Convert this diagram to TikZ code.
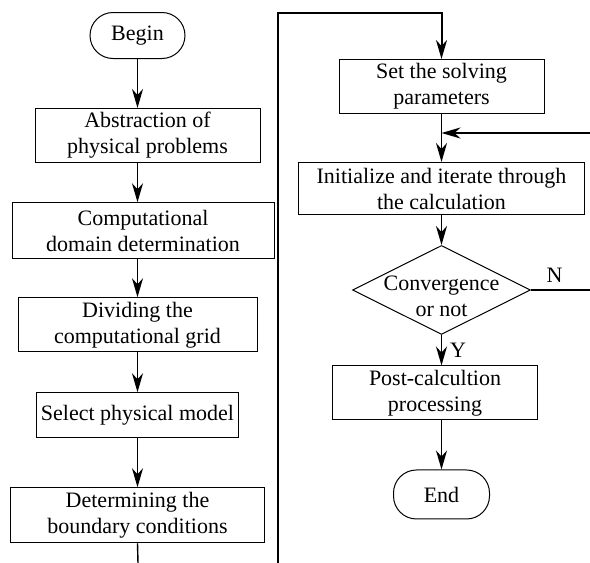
\documentclass[tikz,border=0pt]{standalone}
\usepackage{fontspec}
\setmainfont{Liberation Serif}
\usetikzlibrary{arrows.meta, positioning, shapes.geometric}

\begin{document}
\begin{tikzpicture}[
  x=1pt, y=1pt,
  node distance=19.5pt,
  box/.style={draw, line width=0.5pt, minimum height=27pt, inner sep=2pt,
    align=center, font=\fontsize{11}{13}\selectfont},
  term/.style={box, rounded corners=11.5pt, minimum height=23pt, minimum width=47.5pt},
  decision/.style={draw, diamond, line width=0.5pt, minimum width=89pt,
    minimum height=44.5pt, inner sep=0pt},
  txt/.style={align=center, font=\fontsize{11}{13}\selectfont, inner sep=1pt},
  >={Stealth[length=9.5pt, width=5.5pt, inset=3pt]},
  flow/.style={->, line width=0.7pt},
  loop/.style={line width=1pt}
]
\useasboundingbox (0,0) rectangle (295,-281.5);

% left column
\node[term] (begin) at (68.75,-17.75) {Begin};
\node[box, minimum width=112.5pt, below=24.5pt of begin, xshift=5pt] (abs)
  {Abstraction of\\physical problems};
\node[box, minimum width=131pt, minimum height=28pt, below=of abs, xshift=-2.25pt] (comp)
  {Computational\\domain determination};
\node[box, minimum width=119.5pt, below=19pt of comp, xshift=-2.75pt] (grid)
  {Dividing the\\computational grid};
\node[box, minimum width=99pt, minimum height=22.5pt, below=20pt of grid] (model)
  {Select physical model};
\node[box, minimum width=127pt, minimum height=27.5pt, below=24.5pt of model] (bound)
  {Determining the\\boundary conditions};

% right column
\node[box, minimum width=102.5pt, minimum height=26.5pt] (param) at (220.75,-43.25)
  {Set the solving\\parameters};
\node[box, minimum width=143pt, minimum height=26pt, below=24pt of param] (iter)
  {Initialize and iterate through\\the calculation};
\node[decision, below=15pt of iter] (conv) {};
\node[txt] (convtext) at ([yshift=-3pt]conv.center) {Convergence\\or not};
\node[box, minimum width=102.5pt, minimum height=26.5pt, below=15.25pt of conv, xshift=-3.25pt] (post)
  {Post-calcultion\\processing};
\node[term, minimum width=48pt, minimum height=24.5pt, below=24.5pt of post, xshift=3.25pt] (end)
  {End};

\coordinate (leftbot) at (69,-281.5);
\coordinate (loopbot) at (139,-281.5);
\coordinate (looptop) at (139,-6.5);
\coordinate (back) at (295,-66.5);

\draw[flow] (begin) -- (begin |- abs.north);
\draw[flow] (abs.south -| begin) -- (comp.north -| begin);
\draw[flow] (comp.south -| begin) -- (grid.north -| begin);
\draw[flow] (grid.south -| begin) -- (model.north -| begin);
\draw[flow] (model.south -| begin) -- (bound.north -| begin);
\draw[line width=0.7pt] (bound.south -| begin) -- (leftbot);

\draw[loop, ->] (loopbot) -- (looptop) -| (param.north -| conv);
\draw[flow] (param.south -| conv) -- (iter.north -| conv);
\draw[loop, ->] (back) -- (back -| conv);
\draw[flow] (iter.south -| conv) -- (conv.north);
\draw[loop] (conv.east) -- (conv.east -| back)
  node[txt, pos=0.4, above=2pt] (no) {N};
\draw[flow] (conv.south) -- (post.north -| conv)
  node[txt, midway, right=3pt] (yes) {Y};
\draw[flow] (post.south -| conv) -- (end.north);
\end{tikzpicture}
\end{document}
